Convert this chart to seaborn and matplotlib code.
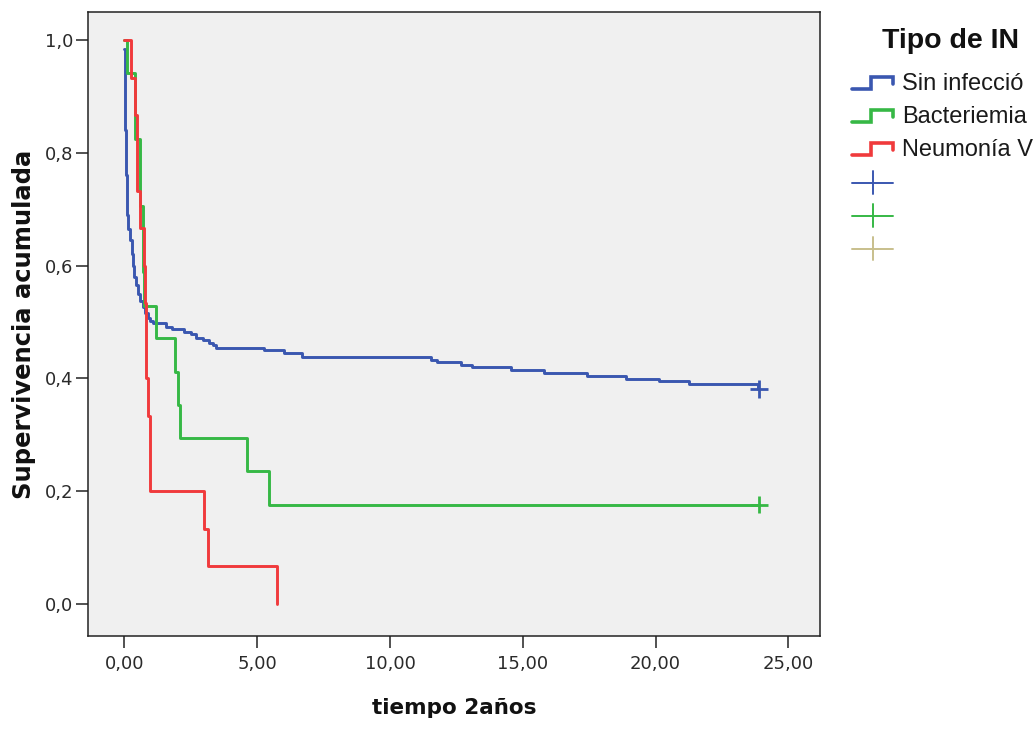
import matplotlib
matplotlib.use("Agg")
import matplotlib.pyplot as plt
from matplotlib.lines import Line2D
from matplotlib.legend_handler import HandlerBase
from matplotlib.ticker import FuncFormatter
import pandas as pd
import seaborn as sns

# Kaplan-Meier survival estimates (time in months, cumulative survival)
sin_inf_t = [0.00, 0.01, 0.02, 0.03, 0.04, 0.06, 0.08, 0.11, 0.15, 0.20, 0.27,
             0.32, 0.36, 0.43, 0.50, 0.60, 0.69, 0.78, 0.87, 0.95, 1.07, 1.56,
             1.79, 2.24, 2.50, 2.69, 2.96, 3.18, 3.35, 3.44, 5.25, 6.00, 6.68,
             11.54, 11.77, 12.67, 13.08, 14.55, 15.79, 17.41, 18.88, 20.12,
             21.25, 23.85]
sin_inf_s = [0.984, 0.950, 0.890, 0.840, 0.800, 0.760, 0.720, 0.690, 0.665,
             0.645, 0.620, 0.600, 0.580, 0.565, 0.550, 0.537, 0.527, 0.516,
             0.507, 0.502, 0.498, 0.491, 0.487, 0.482, 0.479, 0.472, 0.468,
             0.463, 0.459, 0.454, 0.450, 0.445, 0.438, 0.433, 0.429, 0.424,
             0.420, 0.415, 0.410, 0.404, 0.399, 0.395, 0.390, 0.381]

bact_t = [0.00, 0.11, 0.38, 0.40, 0.58, 0.60, 0.68, 0.70, 0.72, 1.17, 1.92,
          2.00, 2.10, 4.63, 5.46]
bact_s = [1.000, 0.941, 0.882, 0.824, 0.765, 0.706, 0.647, 0.588, 0.529,
          0.471, 0.412, 0.353, 0.294, 0.235, 0.176]

neum_t = [0.00, 0.23, 0.38, 0.46, 0.48, 0.57, 0.72, 0.79, 0.80, 0.81, 0.87,
          0.97, 0.98, 3.01, 3.16, 5.76]
neum_s = [1.000, 0.933, 0.867, 0.800, 0.733, 0.667, 0.600, 0.533, 0.467,
          0.400, 0.333, 0.267, 0.200, 0.133, 0.067, 0.000]

# censored cases at end of follow-up
cens_t = [23.90, 23.90]
cens_s = [0.381, 0.176]
cens_grupo = ["Sin infecció", "Bacteriemia"]

grupos = ["Sin infecció", "Bacteriemia", "Neumonía V"]
titulo_leyenda = "Tipo de IN"
colores = {"Sin infecció": "#3a57b0", "Bacteriemia": "#36b845",
           "Neumonía V": "#f03a3c"}
color_cens_extra = "#c8bf8c"

x_ticks = [0, 5, 10, 15, 20, 25]
y_ticks = [0.0, 0.2, 0.4, 0.6, 0.8, 1.0]

# step curves: last value carried forward to the censoring time
frames = []
for g, t, s in [(grupos[0], sin_inf_t, sin_inf_s),
                (grupos[1], bact_t, bact_s),
                (grupos[2], neum_t, neum_s)]:
    t = list(t)
    s = list(s)
    if g in cens_grupo:
        t.append(cens_t[cens_grupo.index(g)])
        s.append(s[-1])
    frames.append(pd.DataFrame({"tiempo": t, "superv": s, "grupo": g}))
curvas = pd.concat(frames, ignore_index=True)
censura = pd.DataFrame({"tiempo": cens_t, "superv": cens_s, "grupo": cens_grupo})

sns.set_theme(style="ticks")
plt.rcParams["font.family"] = ["DejaVu Sans"]

fig = plt.figure(figsize=(10.36, 7.29), dpi=100)
ax = fig.add_axes([0.0845, 0.1276, 0.707, 0.856])
ax.set_facecolor("#f0f0f0")

sns.lineplot(data=curvas, x="tiempo", y="superv", hue="grupo",
             palette=colores, hue_order=grupos, estimator=None, sort=False,
             drawstyle="steps-post", linewidth=2.1, legend=False, ax=ax)
sns.scatterplot(data=censura, x="tiempo", y="superv", hue="grupo",
                palette=colores, marker="+", s=160, linewidth=2.0,
                legend=False, ax=ax, zorder=5)

ax.set_xlim(-1.39, 26.19)
ax.set_ylim(-0.057, 1.05)
ax.set_xticks(x_ticks)
ax.set_yticks(y_ticks)
ax.xaxis.set_major_formatter(FuncFormatter(lambda v, p: f"{v:.2f}".replace(".", ",")))
ax.yaxis.set_major_formatter(FuncFormatter(lambda v, p: f"{v:.1f}".replace(".", ",")))
ax.tick_params(axis="both", direction="out", length=8.5, width=1.1,
               color="#222222", labelsize=13, labelcolor="#2a2a2a")
ax.tick_params(axis="x", pad=5)
ax.tick_params(axis="y", pad=2)
for sp in ax.spines.values():
    sp.set_visible(True)
    sp.set_color("#222222")
    sp.set_linewidth(1.1)

ax.set_xlabel("tiempo 2años", fontsize=15.5, fontweight="bold", labelpad=18,
              color="#111111")
ax.set_ylabel("Supervivencia acumulada", fontsize=17.5, fontweight="bold",
              labelpad=6, color="#111111")


class StepHandler(HandlerBase):
    def create_artists(self, legend, orig_handle, xdescent, ydescent,
                       width, height, fontsize, trans):
        x0, x1 = -xdescent, -xdescent + width
        xm = x0 + width * 0.45
        yl = -ydescent + height * 0.05
        yh = -ydescent + height * 0.8
        ym = -ydescent + height * 0.35
        ln = Line2D([x0, xm, xm, x1, x1], [yl, yl, yh, yh, ym],
                    color=orig_handle.get_color(), lw=2.6,
                    solid_joinstyle="miter", transform=trans)
        return [ln]


class CrossHandler(HandlerBase):
    def create_artists(self, legend, orig_handle, xdescent, ydescent,
                       width, height, fontsize, trans):
        x0, x1 = -xdescent, -xdescent + width
        xc = x0 + width * 0.5
        yc = -ydescent + height * 0.4
        h = Line2D([x0, x1], [yc, yc], color=orig_handle.get_color(),
                   lw=1.4, transform=trans)
        v = Line2D([xc, xc], [yc - height * 0.7, yc + height * 0.7],
                   color=orig_handle.get_color(), lw=1.4, transform=trans)
        return [h, v]


class StepKey(Line2D):
    pass


class CrossKey(Line2D):
    pass


handles = [StepKey([], [], color=colores[g]) for g in grupos]
handles += [CrossKey([], [], color=colores[grupos[0]]),
            CrossKey([], [], color=colores[grupos[1]]),
            CrossKey([], [], color=color_cens_extra)]
labels = grupos + ["", "", ""]

leg = fig.legend(handles, labels, loc="upper left",
                 bbox_to_anchor=(852 / 1036, 1 - 73 / 729),
                 bbox_transform=fig.transFigure, frameon=False,
                 prop={"family": ["Liberation Sans", "DejaVu Sans"], "size": 17},
                 handlelength=1.75, handletextpad=0.38,
                 labelspacing=0.47, borderpad=0, borderaxespad=0,
                 handler_map={StepKey: StepHandler(), CrossKey: CrossHandler()})
for txt in leg.get_texts():
    txt.set_color("#1a1a1a")

fig.text(882 / 1036, 1 - 48 / 729, titulo_leyenda, fontsize=20.5,
         fontweight="bold", family=["Liberation Sans", "DejaVu Sans"],
         color="#111111", ha="left", va="baseline")

fig.savefig("out.png", dpi=100)
